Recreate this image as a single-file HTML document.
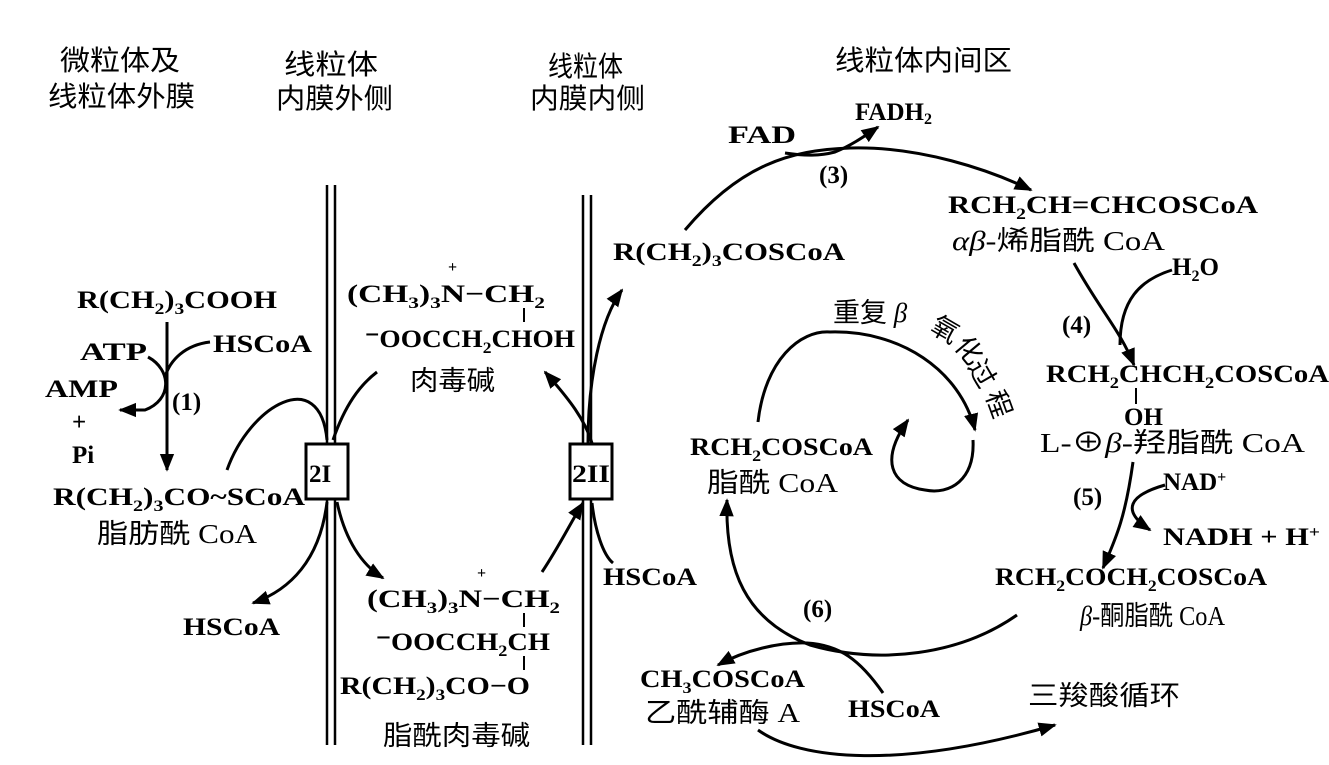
<!DOCTYPE html>
<html><head><meta charset="utf-8"><style>
html,body{margin:0;padding:0;background:#fff;}
svg{display:block;}
text{font-family:"Liberation Serif","Noto Serif CJK SC",serif;font-size:25px;font-weight:bold;fill:#000;}
.c{font-family:"Liberation Serif","Noto Sans CJK SC",sans-serif;font-weight:normal;font-size:27px;}
.h{font-size:28px;}
.s{font-size:16px;}
</style></head><body>
<svg width="1329" height="765" viewBox="0 0 1329 765">
<defs>
<marker id="a" viewBox="0 0 10 10" refX="9" refY="5" markerWidth="6" markerHeight="6" orient="auto-start-reverse"><path d="M0,1 L10,5 L0,9 Z" fill="#000"/></marker>
</defs>
<g fill="none" stroke="#000" stroke-width="3">
<line x1="327" y1="185" x2="327" y2="745" stroke-width="2.5"/><line x1="335" y1="185" x2="335" y2="745" stroke-width="2.5"/>
<line x1="583" y1="195" x2="583" y2="745" stroke-width="2.5"/><line x1="591" y1="195" x2="591" y2="745" stroke-width="2.5"/>
<path d="M167,322 L167,470" marker-end="url(#a)"/>
<path d="M210,342 C185,345 170,360 165,377"/>
<path d="M148,357 C172,370 172,400 145,410 L120,410" marker-end="url(#a)"/>
<path d="M227,470 C250,405 320,365 327,440"/>
<path d="M333,440 C345,405 360,385 377,372"/>
<path d="M327,502 C320,560 290,590 253,603" marker-end="url(#a)"/>
<path d="M337,502 C345,540 362,565 383,578" marker-end="url(#a)"/>
<path d="M592,443 C585,420 570,400 545,372" marker-end="url(#a)"/>
<path d="M588,443 C588,380 600,320 622,290" marker-end="url(#a)"/>
<path d="M542,572 C560,545 572,520 583,503" marker-end="url(#a)"/>
<path d="M592,503 C595,530 603,555 613,563"/>
<path d="M685,230 C740,165 790,150 850,148 C920,146 990,170 1031,190" marker-end="url(#a)"/>
<path d="M785,153 C805,156 820,156 835,152 C850,146 862,138 878,127" marker-end="url(#a)"/>
<path d="M1074,263 C1100,310 1120,330 1134,365" marker-end="url(#a)"/>
<path d="M1172,270 C1140,280 1120,300 1120,345"/>
<path d="M1133,462 C1125,520 1115,540 1103,568" marker-end="url(#a)"/>
<path d="M1165,485 C1130,495 1120,510 1150,530" marker-end="url(#a)"/>
<path d="M1017,615 C960,655 880,665 810,645 C745,620 725,570 727,500" marker-end="url(#a)"/>
<path d="M883,693 C860,660 840,645 807,643 C780,642 745,650 718,665" marker-end="url(#a)"/>
<path d="M758,730 C800,760 900,770 1055,725" marker-end="url(#a)"/>
<path d="M758,422 C765,360 800,330 830,332 C900,330 960,370 975,430" marker-end="url(#a)"/>
<path d="M973,440 C975,480 950,495 925,490 C890,485 880,460 908,420" marker-end="url(#a)"/>
</g>
<g fill="#fff" stroke="#000" stroke-width="3">
<rect x="306" y="444" width="42" height="55"/><rect x="570" y="444" width="42" height="55"/>
</g>
<text x="309" y="482">2I</text><text x="572" y="482" textLength="38" lengthAdjust="spacingAndGlyphs">2II</text>
<text class="c h" x="60" y="70" textLength="120" lengthAdjust="spacingAndGlyphs">微粒体及</text>
<text class="c h" x="48" y="106" textLength="147" lengthAdjust="spacingAndGlyphs">线粒体外膜</text>
<text class="c h" x="284" y="74" textLength="94" lengthAdjust="spacingAndGlyphs">线粒体</text>
<text class="c h" x="276" y="108" textLength="117" lengthAdjust="spacingAndGlyphs">内膜外侧</text>
<text class="c h" x="548" y="76" textLength="75" lengthAdjust="spacingAndGlyphs">线粒体</text>
<text class="c h" x="530" y="108" textLength="115" lengthAdjust="spacingAndGlyphs">内膜内侧</text>
<text class="c h" x="835" y="70" textLength="177" lengthAdjust="spacingAndGlyphs">线粒体内间区</text>
<text x="77" y="308" textLength="200" lengthAdjust="spacingAndGlyphs">R(CH<tspan class="s" dy="6">2</tspan><tspan dy="-6">)</tspan><tspan class="s" dy="6">3</tspan><tspan dy="-6">COOH</tspan></text>
<text x="80" y="360" textLength="67" lengthAdjust="spacingAndGlyphs" font-weight="normal" font-size="27">ATP</text>
<text x="213" y="352" textLength="99" lengthAdjust="spacingAndGlyphs">HSCoA</text>
<text x="45" y="397" textLength="73" lengthAdjust="spacingAndGlyphs" font-weight="normal" font-size="27">AMP</text>
<text x="172" y="410">(1)</text>
<text x="72" y="430" font-size="27">+</text>
<text x="72" y="463" font-weight="normal" font-size="27">Pi</text>
<text x="53" y="505" textLength="252" lengthAdjust="spacingAndGlyphs">R(CH<tspan class="s" dy="6">2</tspan><tspan dy="-6">)</tspan><tspan class="s" dy="6">3</tspan><tspan dy="-6">CO~SCoA</tspan></text>
<text class="c" x="97" y="543" textLength="160" lengthAdjust="spacingAndGlyphs">脂肪酰 CoA</text>
<text x="183" y="635" textLength="97" lengthAdjust="spacingAndGlyphs">HSCoA</text>
<text x="347" y="302" textLength="198" lengthAdjust="spacingAndGlyphs">(CH<tspan class="s" dy="6">3</tspan><tspan dy="-6">)</tspan><tspan class="s" dy="6">3</tspan><tspan dy="-6">N</tspan><tspan dy="0">−CH</tspan><tspan class="s" dy="6">2</tspan></text>
<text class="s" x="448" y="272">+</text>
<line x1="524" y1="308" x2="524" y2="322" stroke="#000" stroke-width="2"/>
<text x="365" y="347" textLength="210" lengthAdjust="spacingAndGlyphs">⁻OOCCH<tspan class="s" dy="6">2</tspan><tspan dy="-6">CHOH</tspan></text>
<text class="c" x="410" y="390" textLength="85" lengthAdjust="spacingAndGlyphs">肉毒碱</text>
<text x="367" y="607" textLength="193" lengthAdjust="spacingAndGlyphs">(CH<tspan class="s" dy="6">3</tspan><tspan dy="-6">)</tspan><tspan class="s" dy="6">3</tspan><tspan dy="-6">N</tspan><tspan dy="0">−CH</tspan><tspan class="s" dy="6">2</tspan></text>
<text class="s" x="477" y="578">+</text>
<line x1="524" y1="613" x2="524" y2="627" stroke="#000" stroke-width="2"/>
<text x="376" y="650" textLength="174" lengthAdjust="spacingAndGlyphs">⁻OOCCH<tspan class="s" dy="6">2</tspan><tspan dy="-6">CH</tspan></text>
<line x1="524" y1="656" x2="524" y2="670" stroke="#000" stroke-width="2"/>
<text x="340" y="694" textLength="190" lengthAdjust="spacingAndGlyphs">R(CH<tspan class="s" dy="6">2</tspan><tspan dy="-6">)</tspan><tspan class="s" dy="6">3</tspan><tspan dy="-6">CO−O</tspan></text>
<text class="c" x="383" y="745" textLength="147" lengthAdjust="spacingAndGlyphs">脂酰肉毒碱</text>
<text x="603" y="585" textLength="94" lengthAdjust="spacingAndGlyphs">HSCoA</text>
<text x="613" y="260" textLength="232" lengthAdjust="spacingAndGlyphs">R(CH<tspan class="s" dy="6">2</tspan><tspan dy="-6">)</tspan><tspan class="s" dy="6">3</tspan><tspan dy="-6">COSCoA</tspan></text>
<text x="728" y="143" font-weight="normal" font-size="27" textLength="68" lengthAdjust="spacingAndGlyphs">FAD</text>
<text x="855" y="120" font-weight="normal" font-size="27">FADH<tspan class="s" dy="4">2</tspan></text>
<text x="819" y="183">(3)</text>
<text x="948" y="213" textLength="310" lengthAdjust="spacingAndGlyphs">RCH<tspan class="s" dy="6">2</tspan><tspan dy="-6">CH=CHCOSCoA</tspan></text>
<text class="c" x="952" y="250" textLength="213" lengthAdjust="spacingAndGlyphs"><tspan font-style="italic">αβ</tspan>-烯脂酰 CoA</text>
<text x="1172" y="275" font-weight="normal">H<tspan class="s" dy="6">2</tspan><tspan dy="-6">O</tspan></text>
<text x="1062" y="333">(4)</text>
<text x="1046" y="382" textLength="283" lengthAdjust="spacingAndGlyphs">RCH<tspan class="s" dy="6">2</tspan><tspan dy="-6">CHCH</tspan><tspan class="s" dy="6">2</tspan><tspan dy="-6">COSCoA</tspan></text>
<line x1="1136" y1="388" x2="1136" y2="404" stroke="#000" stroke-width="2"/>
<text x="1124" y="425">OH</text>
<text class="c" x="1040" y="452" textLength="265" lengthAdjust="spacingAndGlyphs">L-⊕<tspan font-style="italic">β</tspan>-羟脂酰 CoA</text>
<text x="1163" y="490" font-weight="normal" font-size="27">NAD<tspan class="s" dy="-8">+</tspan></text>
<text x="1073" y="505">(5)</text>
<text x="1163" y="545" font-weight="normal" font-size="27" textLength="157" lengthAdjust="spacingAndGlyphs">NADH + H<tspan class="s" dy="-8">+</tspan></text>
<text x="995" y="585" textLength="272" lengthAdjust="spacingAndGlyphs">RCH<tspan class="s" dy="6">2</tspan><tspan dy="-6">COCH</tspan><tspan class="s" dy="6">2</tspan><tspan dy="-6">COSCoA</tspan></text>
<text class="c" x="1080" y="625" textLength="145" lengthAdjust="spacingAndGlyphs"><tspan font-style="italic">β</tspan>-酮脂酰 CoA</text>
<text class="c" x="833" y="322">重复 <tspan font-style="italic">β</tspan></text>
<text class="c" x="931" y="338" transform="rotate(30 943 330)">氧</text>
<text class="c" x="955" y="358" transform="rotate(50 967 350)">化</text>
<text class="c" x="968" y="381" transform="rotate(60 980 373)">过</text>
<text class="c" x="985" y="411" transform="rotate(70 997 403)">程</text>
<text x="690" y="455" textLength="183" lengthAdjust="spacingAndGlyphs">RCH<tspan class="s" dy="6">2</tspan><tspan dy="-6">COSCoA</tspan></text>
<text class="c" x="707" y="492" textLength="131" lengthAdjust="spacingAndGlyphs">脂酰 CoA</text>
<text x="803" y="617">(6)</text>
<text x="640" y="687" textLength="165" lengthAdjust="spacingAndGlyphs">CH<tspan class="s" dy="6">3</tspan><tspan dy="-6">COSCoA</tspan></text>
<text class="c" x="645" y="722" textLength="155" lengthAdjust="spacingAndGlyphs">乙酰辅酶 A</text>
<text x="848" y="717" textLength="92" lengthAdjust="spacingAndGlyphs">HSCoA</text>
<text class="c" x="1028" y="705" textLength="152" lengthAdjust="spacingAndGlyphs">三羧酸循环</text>
</svg>
</body></html>
